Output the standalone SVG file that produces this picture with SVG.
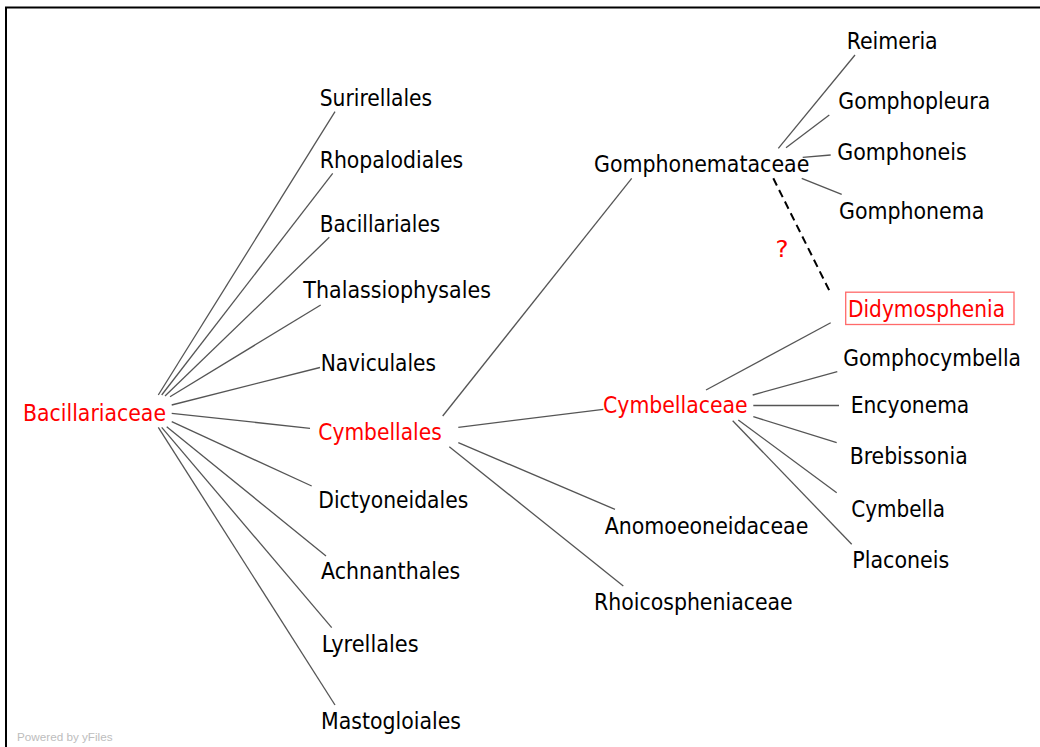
<svg xmlns="http://www.w3.org/2000/svg" width="1040" height="747" viewBox="0 0 1040 747">
<style>
.t{font-family:"DejaVu Sans Condensed","DejaVu Sans",sans-serif;font-size:23px;fill:#000;}
.r{fill:#ff0000;}
.e{stroke:#555;stroke-width:1.3;fill:none;}
.d{stroke:#000;stroke-width:2;stroke-dasharray:8,5;fill:none;}
</style>
<rect width="1040" height="747" fill="#fff"/>
<path d="M6,747 V7.5 H1040" fill="none" stroke="#000" stroke-width="2"/>
<text x="17" y="741" font-family="Liberation Sans, Arial, sans-serif" font-size="11.7" fill="#bdbdbd">Powered by yFiles</text>
<g id="connectors">
<line class="e" x1="158.3" y1="395" x2="335" y2="111.7"/>
<line class="e" x1="161.7" y1="395" x2="332.7" y2="173.3"/>
<line class="e" x1="165" y1="396" x2="329.3" y2="237.3"/>
<line class="e" x1="170" y1="396.7" x2="320.7" y2="305"/>
<line class="e" x1="171.7" y1="405" x2="320" y2="367.5"/>
<line class="e" x1="171.7" y1="413.3" x2="310" y2="428.3"/>
<line class="e" x1="171.7" y1="421.7" x2="311.7" y2="486"/>
<line class="e" x1="166.7" y1="426.7" x2="326" y2="556"/>
<line class="e" x1="161.7" y1="427.3" x2="331.7" y2="627.7"/>
<line class="e" x1="158.3" y1="427.3" x2="335" y2="705"/>
<line class="e" x1="442.7" y1="416" x2="631.7" y2="178.3"/>
<line class="e" x1="458.3" y1="427.3" x2="603.3" y2="409.3"/>
<line class="e" x1="458.3" y1="442.7" x2="615" y2="509.3"/>
<line class="e" x1="449.3" y1="446.7" x2="623.3" y2="586"/>
<line class="e" x1="778.3" y1="148.3" x2="855" y2="55"/>
<line class="e" x1="786" y1="147.7" x2="829.3" y2="115"/>
<line class="e" x1="802.7" y1="157.3" x2="830.7" y2="155"/>
<line class="e" x1="801.7" y1="178.3" x2="841.7" y2="194.3"/>
<line class="d" x1="773.3" y1="178.3" x2="830.7" y2="293.3"/>
<line class="e" x1="706" y1="390" x2="830.7" y2="322.7"/>
<line class="e" x1="752.7" y1="395" x2="837.3" y2="371.7"/>
<line class="e" x1="753.3" y1="405.5" x2="839" y2="405.5"/>
<line class="e" x1="753.3" y1="416.7" x2="836.7" y2="442.7"/>
<line class="e" x1="738.3" y1="420" x2="836.7" y2="492.7"/>
<line class="e" x1="732.7" y1="420.7" x2="851.7" y2="544.3"/>
</g>
<g id="n-bacillariaceae"><text class="t r" x="23" y="421" textLength="143" lengthAdjust="spacingAndGlyphs">Bacillariaceae</text></g>
<g id="n-surirellales"><text class="t" x="319.7" y="106" textLength="112.5" lengthAdjust="spacingAndGlyphs">Surirellales</text></g>
<g id="n-rhopalodiales"><text class="t" x="319.7" y="167.7" textLength="143.5" lengthAdjust="spacingAndGlyphs">Rhopalodiales</text></g>
<g id="n-bacillariales"><text class="t" x="319.7" y="231.7" textLength="120.5" lengthAdjust="spacingAndGlyphs">Bacillariales</text></g>
<g id="n-thalassiophysales"><text class="t" x="303.3" y="298.3" textLength="187.7" lengthAdjust="spacingAndGlyphs">Thalassiophysales</text></g>
<g id="n-naviculales"><text class="t" x="320.7" y="371" textLength="115.3" lengthAdjust="spacingAndGlyphs">Naviculales</text></g>
<g id="n-cymbellales"><text class="t r" x="318.3" y="440" textLength="123.4" lengthAdjust="spacingAndGlyphs">Cymbellales</text></g>
<g id="n-dictyoneidales"><text class="t" x="318.3" y="508.3" textLength="150" lengthAdjust="spacingAndGlyphs">Dictyoneidales</text></g>
<g id="n-achnanthales"><text class="t" x="321" y="579.3" textLength="139.3" lengthAdjust="spacingAndGlyphs">Achnanthales</text></g>
<g id="n-lyrellales"><text class="t" x="321.7" y="651.7" textLength="97" lengthAdjust="spacingAndGlyphs">Lyrellales</text></g>
<g id="n-mastogloiales"><text class="t" x="321" y="729.3" textLength="140" lengthAdjust="spacingAndGlyphs">Mastogloiales</text></g>
<g id="n-gomphonemataceae"><text class="t" x="594" y="172.3" textLength="215.3" lengthAdjust="spacingAndGlyphs">Gomphonemataceae</text></g>
<g id="n-cymbellaceae"><text class="t r" x="603" y="413.3" textLength="144.7" lengthAdjust="spacingAndGlyphs">Cymbellaceae</text></g>
<g id="n-anomoeoneidaceae"><text class="t" x="604.7" y="534" textLength="203.6" lengthAdjust="spacingAndGlyphs">Anomoeoneidaceae</text></g>
<g id="n-rhoicospheniaceae"><text class="t" x="594" y="610" textLength="198.7" lengthAdjust="spacingAndGlyphs">Rhoicospheniaceae</text></g>
<g id="n-reimeria"><text class="t" x="846.7" y="49.3" textLength="91" lengthAdjust="spacingAndGlyphs">Reimeria</text></g>
<g id="n-gomphopleura"><text class="t" x="838.3" y="109" textLength="152" lengthAdjust="spacingAndGlyphs">Gomphopleura</text></g>
<g id="n-gomphoneis"><text class="t" x="837.3" y="160" textLength="129.4" lengthAdjust="spacingAndGlyphs">Gomphoneis</text></g>
<g id="n-gomphonema"><text class="t" x="839" y="219" textLength="145.3" lengthAdjust="spacingAndGlyphs">Gomphonema</text></g>
<g id="n-question"><text class="t r" x="775.5" y="257.3" font-size="25" textLength="13" lengthAdjust="spacingAndGlyphs">?</text></g>
<g id="n-didymosphenia">
<rect x="845.7" y="292.2" width="168.3" height="32.3" fill="#fff" stroke="#ff6a6a" stroke-width="1.3"/>
<text class="t r" x="848" y="317.3" textLength="157" lengthAdjust="spacingAndGlyphs">Didymosphenia</text>
</g>
<g id="n-gomphocymbella"><text class="t" x="843.3" y="366" textLength="177.7" lengthAdjust="spacingAndGlyphs">Gomphocymbella</text></g>
<g id="n-encyonema"><text class="t" x="850.7" y="413.3" textLength="118.6" lengthAdjust="spacingAndGlyphs">Encyonema</text></g>
<g id="n-brebissonia"><text class="t" x="849.7" y="464.3" textLength="118" lengthAdjust="spacingAndGlyphs">Brebissonia</text></g>
<g id="n-cymbella"><text class="t" x="851.3" y="516.7" textLength="93.7" lengthAdjust="spacingAndGlyphs">Cymbella</text></g>
<g id="n-placoneis"><text class="t" x="852.3" y="568.3" textLength="97" lengthAdjust="spacingAndGlyphs">Placoneis</text></g>
</svg>
